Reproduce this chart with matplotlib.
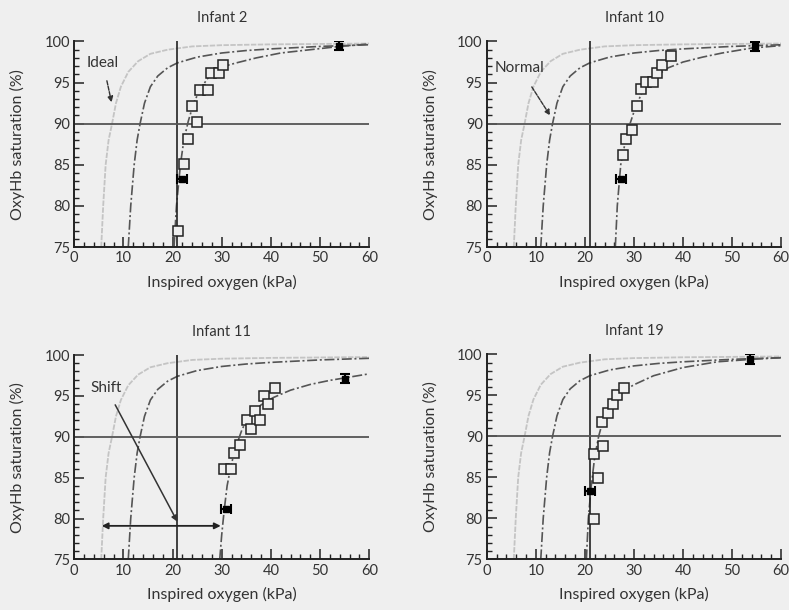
import numpy as np
import matplotlib.pyplot as plt
from matplotlib.ticker import MultipleLocator

plt.rcParams['font.family'] = ['Lato', 'DejaVu Sans']

# reference curves, same in every panel
ideal_kpa = [5.5, 5.9, 6.4, 7.0, 7.7, 8.5, 9.5, 11.0, 13.0, 15.5, 19.0, 24.0, 30.0, 40.0, 50.0, 60.0]
ideal_sat = [75, 80, 85, 88, 90, 92.5, 94.5, 96.3, 97.6, 98.5, 99.0, 99.4, 99.55, 99.65, 99.7, 99.75]
normal_kpa = [11.0, 11.5, 12.2, 12.8, 13.4, 14.3, 15.5, 17.0, 19.0, 21.0, 25.0, 30.0, 35.0, 40.0, 50.0, 60.0]
normal_sat = [75, 80, 85, 88, 90, 92.5, 94.5, 95.8, 96.8, 97.4, 98.1, 98.6, 98.9, 99.1, 99.4, 99.6]

# Infant 2
inf2_kpa = [21.2, 22.3, 23.2, 24.0, 25.0, 25.6, 27.3, 27.8, 29.4, 30.2]
inf2_sat = [77.0, 85.1, 88.1, 92.1, 90.2, 94.1, 94.1, 96.2, 96.2, 97.1]
inf2_fit_kpa = [20.3, 20.8, 21.6, 22.3, 23.2, 24.3, 25.6, 27.5, 30.0, 33.0, 37.0, 42.0, 48.0, 54.0, 60.0]
inf2_fit_sat = [75, 80, 85, 88, 90.3, 92.5, 94.2, 95.8, 96.9, 97.4, 98.0, 98.6, 99.0, 99.4, 99.7]
inf2_low = (21.9, 83.3, 1.0)
inf2_high = (53.9, 99.5, 0.5)

# Infant 10
inf10_kpa = [27.7, 28.4, 29.7, 30.6, 31.4, 32.4, 33.9, 34.7, 35.7, 37.6]
inf10_sat = [86.2, 88.1, 89.2, 92.2, 94.2, 95.1, 95.1, 96.2, 97.2, 98.2]
inf10_fit_kpa = [26.2, 26.6, 27.3, 28.3, 29.2, 30.3, 31.8, 34.0, 37.0, 40.0, 44.0, 48.0, 54.0, 60.0]
inf10_fit_sat = [75, 80, 85, 88, 90, 92, 94, 95.6, 96.8, 97.5, 98.1, 98.6, 99.2, 99.5]
inf10_low = (27.3, 83.3, 1.0)
inf10_high = (54.6, 99.4, 0.5)

# Infant 11
inf11_kpa = [30.4, 31.9, 32.6, 33.8, 35.1, 35.9, 36.8, 37.7, 38.7, 39.5, 40.9]
inf11_sat = [86.0, 86.0, 88.0, 89.0, 92.0, 91.0, 93.1, 92.0, 95.0, 94.0, 96.0]
inf11_fit_kpa = [29.6, 30.0, 30.5, 31.1, 31.9, 32.9, 34.2, 35.8, 38.0, 40.5, 44.0, 48.0, 52.0, 56.0, 60.0]
inf11_fit_sat = [75, 78, 81, 84, 86.5, 88.8, 91, 92.6, 93.9, 94.8, 95.7, 96.4, 96.9, 97.3, 97.7]
inf11_low = (30.8, 81.2, 1.0)
inf11_high = (55.1, 97.1, 0.55)

# Infant 19
inf19_kpa = [21.9, 22.7, 21.9, 23.6, 23.5, 24.8, 25.7, 26.5, 27.9]
inf19_sat = [79.9, 84.9, 87.8, 88.8, 91.8, 92.9, 93.9, 95.0, 95.9]
inf19_fit_kpa = [20.3, 20.7, 21.3, 22.0, 22.8, 23.8, 25.2, 27.2, 30.0, 34.0, 40.0, 47.0, 54.0, 60.0]
inf19_fit_sat = [75, 80, 84, 87.5, 90, 92.2, 94.0, 95.3, 96.3, 97.4, 98.4, 99.1, 99.4, 99.6]
inf19_low = (21.1, 83.3, 1.0)
inf19_high = (53.7, 99.4, 0.6)

room_air = 21
target_sat = 90

panels = [
    ('Infant 2', inf2_kpa, inf2_sat, inf2_fit_kpa, inf2_fit_sat, inf2_low, inf2_high),
    ('Infant 10', inf10_kpa, inf10_sat, inf10_fit_kpa, inf10_fit_sat, inf10_low, inf10_high),
    ('Infant 11', inf11_kpa, inf11_sat, inf11_fit_kpa, inf11_fit_sat, inf11_low, inf11_high),
    ('Infant 19', inf19_kpa, inf19_sat, inf19_fit_kpa, inf19_fit_sat, inf19_low, inf19_high),
]
rects = [
    [0.094, 0.595, 0.374, 0.337],
    [0.617, 0.595, 0.373, 0.337],
    [0.094, 0.083, 0.374, 0.335],
    [0.617, 0.083, 0.373, 0.336],
]

txt = '#333333'
dashdot = (0, (6, 1.6, 1.2, 1.6))

fig = plt.figure(figsize=(7.89, 6.10), dpi=100, facecolor='#efefef')
axes = []
for (title, kx, ks, fx, fs, low, high), r in zip(panels, rects):
    ax = fig.add_axes(r)
    ax.set_facecolor('#efefef')
    ax.plot(ideal_kpa, ideal_sat, color='#c4c4c4', lw=1.3, ls=(0, (3, 0.8)))
    ax.plot(normal_kpa, normal_sat, color='#555555', lw=1.2, ls=dashdot)
    ax.plot(fx, fs, color='#555555', lw=1.2, ls=dashdot)
    ax.axvline(room_air, color='#222222', lw=1.2)
    ax.axhline(target_sat, color='#555555', lw=1.3)
    ax.plot(kx, ks, ls='none', marker='s', ms=7, mfc='#efefef', mec='#222222', mew=1.1, zorder=4)
    ax.errorbar(low[0], low[1], xerr=low[2], fmt='s', color='black', ms=5, capsize=3.5,
                capthick=1.5, lw=1.5, zorder=5)
    ax.errorbar(high[0], high[1], yerr=high[2], fmt='s', color='black', ms=5, capsize=3.5,
                capthick=1.5, lw=1.5, zorder=5)

    ax.set_xlim(0, 60)
    ax.set_ylim(75, 100)
    ax.xaxis.set_major_locator(MultipleLocator(10))
    ax.xaxis.set_minor_locator(MultipleLocator(2))
    ax.yaxis.set_major_locator(MultipleLocator(5))
    ax.yaxis.set_minor_locator(MultipleLocator(1))
    ax.tick_params(which='major', direction='in', length=7, width=1.1, colors='#222222',
                   labelcolor=txt, labelsize=10.5, pad=3)
    ax.tick_params(which='minor', direction='in', length=3.5, width=1.0, colors='#222222')
    for s in ['top', 'right']:
        ax.spines[s].set_visible(False)
    for s in ['left', 'bottom']:
        ax.spines[s].set_linewidth(1.4)
        ax.spines[s].set_color('#222222')
    ax.set_title(title, fontsize=10.5, color=txt, pad=14)
    ax.set_xlabel('Inspired oxygen (kPa)', fontsize=11.5, color=txt, labelpad=7)
    ax.set_ylabel('OxyHb saturation (%)', fontsize=11.5, color=txt, labelpad=14)
    axes.append(ax)

# annotations
axes[0].annotate('Ideal', xy=(7.6, 92.6), xytext=(2.6, 97.4), fontsize=11, color=txt,
                 va='center', ha='left',
                 arrowprops=dict(arrowstyle='-|>', color='#333333', lw=1, ls=(0, (3, 1)),
                                 shrinkA=6, shrinkB=0, mutation_scale=8))
axes[1].annotate('Normal', xy=(12.9, 91.0), xytext=(1.6, 96.8), fontsize=11, color=txt,
                 va='center', ha='left',
                 arrowprops=dict(arrowstyle='-|>', color='#333333', lw=1, ls=(0, (3, 1)),
                                 shrinkA=8, shrinkB=0, mutation_scale=8))
axes[2].annotate('Shift', xy=(21.0, 79.6), xytext=(3.3, 96.0), fontsize=11, color=txt,
                 va='center', ha='left',
                 arrowprops=dict(arrowstyle='-|>', color='#333333', lw=1.1,
                                 shrinkA=6, shrinkB=0, mutation_scale=9))
axes[2].annotate('', xy=(5.6, 79.1), xytext=(29.8, 79.1),
                 arrowprops=dict(arrowstyle='<|-|>', color='#222222', lw=1.3,
                                 shrinkA=0, shrinkB=0, mutation_scale=9))

fig.savefig('out.png', dpi=100, facecolor=fig.get_facecolor())
